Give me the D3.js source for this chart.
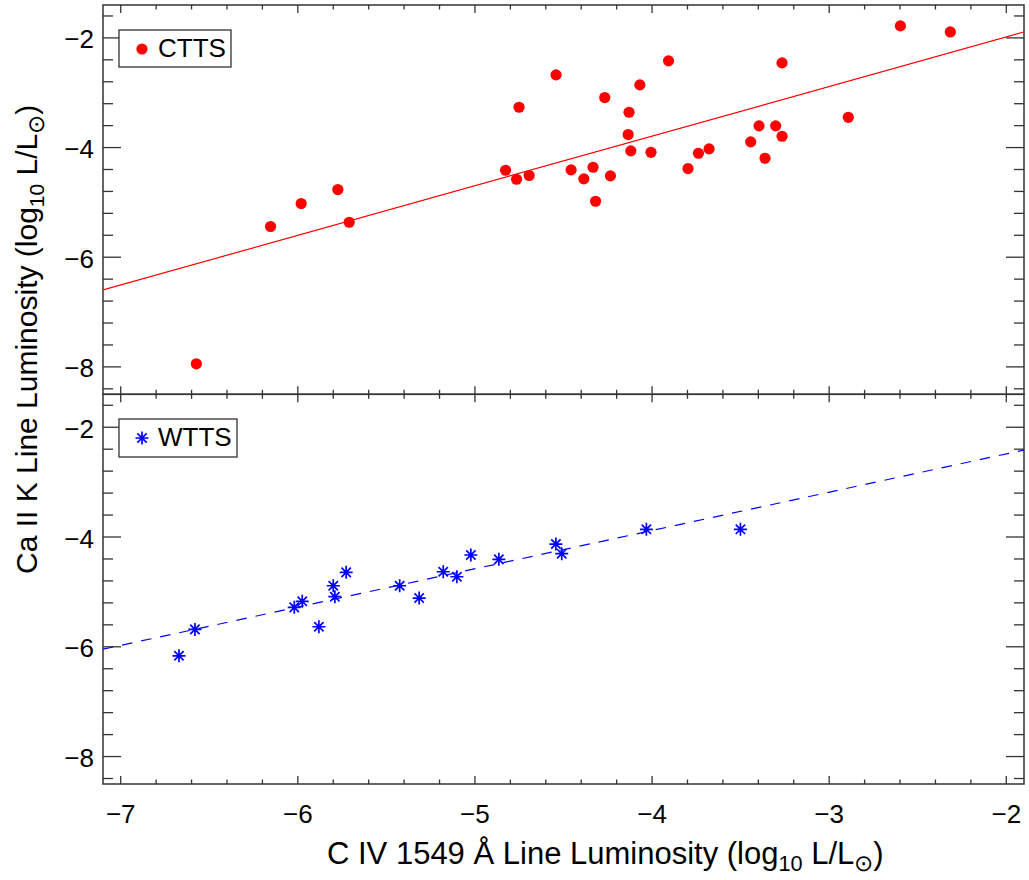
<!DOCTYPE html>
<html>
<head>
<meta charset="utf-8">
<script src="https://cdn.jsdelivr.net/npm/d3@7"></script>
<style>
  body { margin: 0; background: #fff; }
  text { font-family: "Liberation Sans", Arial, Helvetica, sans-serif; fill: #000; }
</style>
</head>
<body>
<div id="chart"></div>
<script>
// CTTS sample (top panel)
var cttsX = [-2.598, -2.316, -3.907, -3.266, -4.542, -4.069, -4.267, -4.751, -4.130, -2.892,
  -3.396, -3.302, -3.266, -4.135, -3.443, -4.120, -4.006, -3.678, -3.738, -3.362,
  -3.797, -4.827, -4.765, -4.694, -4.457, -4.333, -4.385, -4.235, -4.319, -6.154,
  -5.981, -5.774, -5.710, -6.573]
var cttsY = [-1.781, -1.891, -2.419, -2.456, -2.675, -2.857, -3.088, -3.265, -3.356, -3.448,
  -3.604, -3.604, -3.794, -3.763, -3.896, -4.060, -4.086, -4.024, -4.104, -4.195,
  -4.383, -4.414, -4.578, -4.510, -4.407, -4.359, -4.571, -4.516, -4.979, -5.440,
  -5.021, -4.766, -5.362, -7.944]

// WTTS sample (bottom panel)
var wttsX = [-6.671, -6.581, -6.020, -5.975, -5.881, -5.800, -5.791, -5.727, -5.425, -5.315,
  -5.179, -5.102, -5.023, -4.865, -4.543, -4.510, -4.032, -3.501]
var wttsY = [-6.164, -5.683, -5.282, -5.172, -5.635, -4.888, -5.088, -4.644, -4.888, -5.112,
  -4.633, -4.724, -4.328, -4.407, -4.128, -4.304, -3.860, -3.860]

// fitted lines, end points at the x-axis limits
var fitX = [-7.1, -1.9]
var cttsFitY = [-6.596, -1.892]
var wttsFitY = [-6.044, -2.416]

var xTicks = [-7, -6, -5, -4, -3, -2]
var yTicks = [-8, -6, -4, -2]

var width = 1029,
  height = 880;

var plotLeft = 103, plotRight = 1024, plotTop = 5, plotMid = 394.3, plotBottom = 784;

var svg = d3.select("#chart")
  .append("svg")
  .attr("width", width)
  .attr("height", height)

var x = d3.scaleLinear().domain([-7.1, -1.9]).range([plotLeft, plotRight])
var yTop = d3.scaleLinear().domain([-8.5, -1.4]).range([plotMid, plotTop])
var yBot = d3.scaleLinear().domain([-8.5, -1.4]).range([plotBottom, plotMid])

var axisColor = "#333"

function drawPanel(y, showX, id) {
  var g = svg.append("g")
  var y0 = y.range()[0], y1 = y.range()[1]

  // x ticks on bottom and top edges
  var xMinor = d3.range(-7.0, -1.89, 0.2).map(function (v) { return Math.round(v * 10) / 10 })
  xMinor.forEach(function (v) {
    var major = Math.abs(v - Math.round(v)) < 1e-6
    var len = major ? 8 : 4.5
    g.append("line").attr("x1", x(v)).attr("x2", x(v)).attr("y1", y0).attr("y2", y0 - len)
      .attr("stroke", axisColor).attr("stroke-width", 1.3)
    g.append("line").attr("x1", x(v)).attr("x2", x(v)).attr("y1", y1).attr("y2", y1 + len)
      .attr("stroke", axisColor).attr("stroke-width", 1.3)
  })

  // y ticks on left and right edges
  var yMinor = d3.range(-8.4, -1.39, 0.4).map(function (v) { return Math.round(v * 10) / 10 })
  yMinor.forEach(function (v) {
    var major = yTicks.indexOf(v) >= 0
    var len = major ? 18 : 10
    g.append("line").attr("x1", plotLeft).attr("x2", plotLeft + len).attr("y1", y(v)).attr("y2", y(v))
      .attr("stroke", axisColor).attr("stroke-width", 1.3)
    g.append("line").attr("x1", plotRight).attr("x2", plotRight - len).attr("y1", y(v)).attr("y2", y(v))
      .attr("stroke", axisColor).attr("stroke-width", 1.3)
  })

  g.selectAll(".ylab")
    .data(yTicks)
    .enter()
    .append("text")
    .attr("x", 94)
    .attr("y", function (d) { return y(d) + 10.5 })
    .attr("text-anchor", "end")
    .style("font-size", "26px")
    .text(function (d) { return "\u2212" + Math.abs(d) })

  if (showX) {
    g.selectAll(".xlab")
      .data(xTicks)
      .enter()
      .append("text")
      .attr("x", function (d) { return x(d) })
      .attr("y", y0 + 39)
      .attr("text-anchor", "middle")
      .style("font-size", "26px")
      .text(function (d) { return "\u2212" + Math.abs(d) })
  }

  g.append("rect")
    .attr("x", plotLeft).attr("y", y1)
    .attr("width", plotRight - plotLeft).attr("height", y0 - y1)
    .attr("fill", "none").attr("stroke", axisColor).attr("stroke-width", 1.5)

  svg.append("clipPath").attr("id", id)
    .append("rect").attr("x", plotLeft).attr("y", y1).attr("width", plotRight - plotLeft).attr("height", y0 - y1)
}

drawPanel(yTop, false, "clipTop")
drawPanel(yBot, true, "clipBot")

// CTTS fit and points
svg.append("line")
  .attr("clip-path", "url(#clipTop)")
  .attr("x1", x(fitX[0])).attr("y1", yTop(cttsFitY[0]))
  .attr("x2", x(fitX[1])).attr("y2", yTop(cttsFitY[1]))
  .attr("stroke", "#ff0000").attr("stroke-width", 1.2)

svg.append("g")
  .selectAll("circle")
  .data(cttsX)
  .enter()
  .append("circle")
  .attr("cx", function (d) { return x(d) })
  .attr("cy", function (d, i) { return yTop(cttsY[i]) })
  .attr("r", 5.6)
  .attr("fill", "#ff0000")

// WTTS fit and points
svg.append("line")
  .attr("clip-path", "url(#clipBot)")
  .attr("x1", x(fitX[0])).attr("y1", yBot(wttsFitY[0]))
  .attr("x2", x(fitX[1])).attr("y2", yBot(wttsFitY[1]))
  .attr("stroke", "#0000ff").attr("stroke-width", 1.2)
  .attr("stroke-dasharray", "10.5,9")

function asterisk(sel, s) {
  var d = s * 0.72
  sel.append("path")
    .attr("d", "M0," + (-s) + "V" + s + "M" + (-s) + ",0H" + s +
      "M" + (-d) + "," + (-d) + "L" + d + "," + d + "M" + (-d) + "," + d + "L" + d + "," + (-d))
    .attr("stroke", "#0000ff").attr("stroke-width", 1.7).attr("fill", "none")
}

svg.append("g")
  .selectAll("g")
  .data(wttsX)
  .enter()
  .append("g")
  .attr("transform", function (d, i) { return "translate(" + x(d) + "," + yBot(wttsY[i]) + ")" })
  .call(asterisk, 6.5)

// legends
svg.append("rect").attr("x", 119).attr("y", 30).attr("width", 112).attr("height", 37)
  .attr("fill", "#fff").attr("stroke", axisColor).attr("stroke-width", 1.3)
svg.append("circle").attr("cx", 142).attr("cy", 49).attr("r", 5.6).attr("fill", "#ff0000")
svg.append("text").attr("x", 158).attr("y", 57).style("font-size", "26px").text("CTTS")

svg.append("rect").attr("x", 119).attr("y", 419).attr("width", 118).attr("height", 38)
  .attr("fill", "#fff").attr("stroke", axisColor).attr("stroke-width", 1.3)
svg.append("g").attr("transform", "translate(142,438)").call(asterisk, 6.5)
svg.append("text").attr("x", 158).attr("y", 446).style("font-size", "26px").text("WTTS")

// axis titles
function title(t, prefix, fs) {
  t.append("tspan").text(prefix + " Line Luminosity (log")
  t.append("tspan").attr("dy", 7).style("font-size", (fs * 0.7) + "px").text("10")
  t.append("tspan").attr("dy", -7).text(" L/L")
  t.append("tspan").attr("dy", 7).style("font-size", (fs * 0.75) + "px").text("\u2299")
  t.append("tspan").attr("dy", -7).text(")")
}

svg.append("text")
  .attr("x", 327).attr("y", 864)
  .style("font-size", "31px")
  .call(title, "C IV 1549 \u00c5", 31)

svg.append("text")
  .attr("transform", "translate(37,574) rotate(-90)")
  .style("font-size", "30px")
  .call(title, "Ca II K", 30)
</script>
</body>
</html>
